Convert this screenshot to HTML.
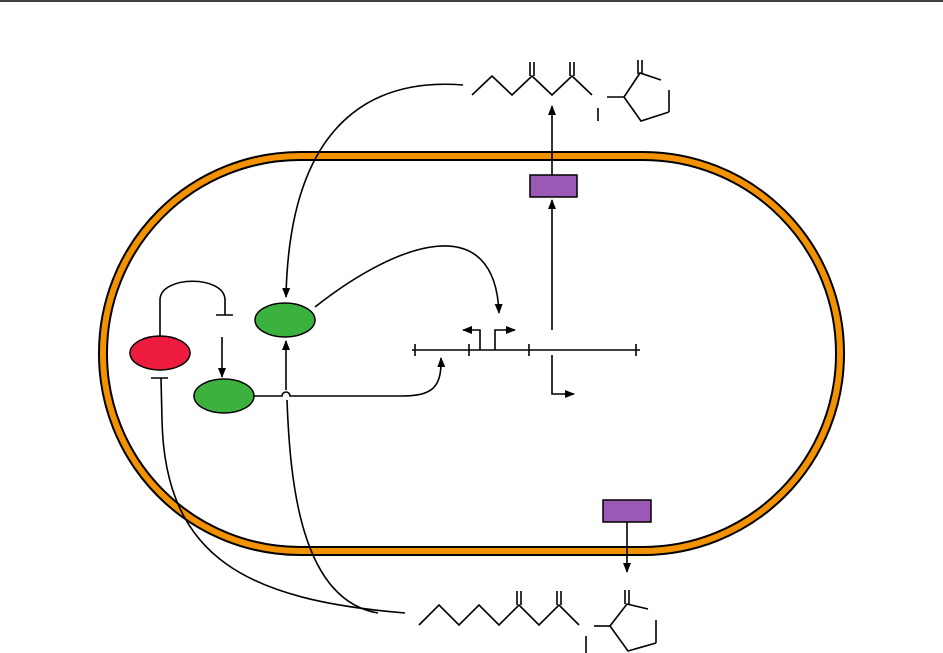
<!DOCTYPE html>
<html><head><style>html,body{margin:0;padding:0;background:#fff;}svg{display:block}</style></head>
<body>
<svg width="943" height="653" viewBox="0 0 943 653" xmlns="http://www.w3.org/2000/svg">
<defs>
<marker id="a" markerWidth="10" markerHeight="10" refX="9" refY="5" orient="auto" markerUnits="userSpaceOnUse"><path d="M0,1 L10,5 L0,9 Z" fill="#000"/></marker>
</defs>
<line x1="0" y1="1" x2="943" y2="1" stroke="#000" stroke-width="1.5"/>
<rect x="103" y="156" width="737" height="395" rx="197" ry="197" fill="none" stroke="#000" stroke-width="10"/>
<rect x="103" y="156" width="737" height="395" rx="197" ry="197" fill="none" stroke="#f39200" stroke-width="6"/>
<g fill="none" stroke="#000" stroke-width="1.6">
<polyline points="472,95 492,76 512,95 532,76 552,95 572,76 592,95"/>
<line x1="530" y1="62" x2="530" y2="76"/><line x1="534" y1="62" x2="534" y2="76"/>
<line x1="570" y1="62" x2="570" y2="76"/><line x1="574" y1="62" x2="574" y2="76"/>
<line x1="607" y1="97" x2="624" y2="97"/><line x1="598" y1="108" x2="598" y2="121"/>
<polyline points="624,97 640,73 661,80"/><line x1="669" y1="90" x2="669" y2="112"/>
<polyline points="669,112 641,121 624,97"/>
<line x1="638" y1="60" x2="638" y2="74"/><line x1="642" y1="60" x2="642" y2="74"/>
<polyline points="419,625 439,605 459,625 479,605 499,625 519,605 539,625 559,605 579,625"/>
<line x1="517" y1="591" x2="517" y2="605"/><line x1="521" y1="591" x2="521" y2="605"/>
<line x1="557" y1="591" x2="557" y2="605"/><line x1="561" y1="591" x2="561" y2="605"/>
<line x1="594" y1="626" x2="610" y2="626"/><line x1="586" y1="636" x2="586" y2="653"/>
<polyline points="610,626 627,604 648,609"/><line x1="656" y1="620" x2="656" y2="643"/>
<polyline points="656,643 628,651 610,626"/>
<line x1="625" y1="590" x2="625" y2="604"/><line x1="629" y1="590" x2="629" y2="604"/>
<path d="M463,85 C400,80 290,95 286,297" marker-end="url(#a)"/>
<path d="M315,307 C400,240 495,210 499,313" marker-end="url(#a)"/>
<path d="M160,336 L160,300 C160,275 225,275 225,300 L225,315"/>
<line x1="216" y1="315" x2="233" y2="315"/>
<line x1="222" y1="337" x2="222" y2="377" marker-end="url(#a)"/>
<line x1="151" y1="378" x2="168" y2="378"/>
<path d="M161,378 L162,420 C165,560 250,600 405,613"/>
<path d="M287,400 C290,480 300,600 378,613"/>
<path d="M286,390 L286,341" marker-end="url(#a)"/>
<path d="M254,396 L282,396 A4,4 0 0 1 290,396 L400,396 C430,396 442,390 441,358" marker-end="url(#a)"/>
<line x1="412" y1="350" x2="640" y2="350"/>
<line x1="415" y1="344" x2="415" y2="356"/><line x1="469" y1="344" x2="469" y2="356"/>
<line x1="529" y1="344" x2="529" y2="356"/><line x1="636" y1="344" x2="636" y2="356"/>
<polyline points="480,350 480,330 463,330" marker-end="url(#a)"/>
<polyline points="495,350 495,330 515,330" marker-end="url(#a)"/>
<line x1="552" y1="330" x2="552" y2="200" marker-end="url(#a)"/>
<polyline points="552,355 552,394 574,394" marker-end="url(#a)"/>
<line x1="552" y1="175" x2="552" y2="106" marker-end="url(#a)"/>
<line x1="627" y1="522" x2="627" y2="572" marker-end="url(#a)"/>
</g>
<rect x="530" y="175" width="47" height="22" fill="#9b59b6" stroke="#000" stroke-width="1.5"/>
<rect x="603" y="500" width="48" height="22" fill="#9b59b6" stroke="#000" stroke-width="1.5"/>
<ellipse cx="285" cy="320" rx="30" ry="17" fill="#3db13d" stroke="#000" stroke-width="1.5"/>
<ellipse cx="224" cy="396" rx="30" ry="17" fill="#3db13d" stroke="#000" stroke-width="1.5"/>
<ellipse cx="160" cy="353" rx="30" ry="17" fill="#ed1c3f" stroke="#000" stroke-width="1.5"/>
</svg>
</body></html>
